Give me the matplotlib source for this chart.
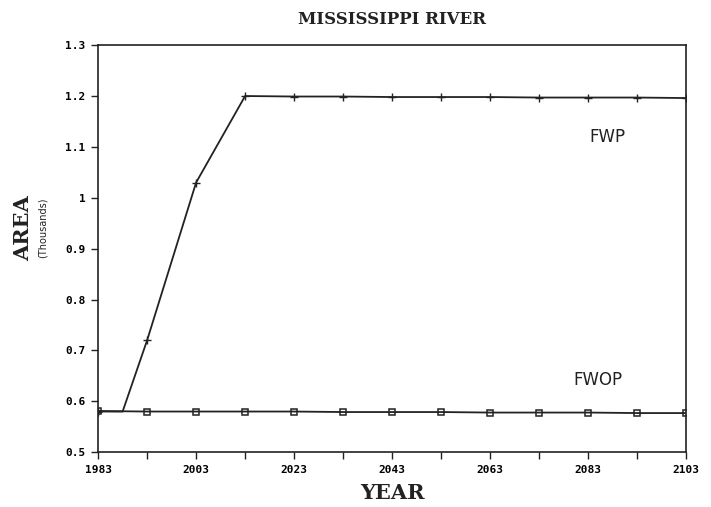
import numpy as np
import matplotlib.pyplot as plt

# --- dados ---
anos_fwp = [1983, 1988, 1993, 2003, 2013, 2023, 2033, 2043, 2053, 2063, 2073, 2083, 2093, 2103]
area_fwp = [0.58, 0.58, 0.72, 1.03, 1.20, 1.199, 1.199, 1.198, 1.198, 1.198, 1.197, 1.197, 1.197, 1.196]
marcas_fwp = [0, 2, 3, 4, 5, 6, 7, 8, 9, 10, 11, 12, 13]

anos_fwop = [1983, 1993, 2003, 2013, 2023, 2033, 2043, 2053, 2063, 2073, 2083, 2093, 2103]
area_fwop = [0.581, 0.580, 0.580, 0.580, 0.580, 0.579, 0.579, 0.579, 0.578, 0.578, 0.578, 0.577, 0.577]

xticks = [1983, 2003, 2023, 2043, 2063, 2083, 2103]
yticks = [0.5, 0.6, 0.7, 0.8, 0.9, 1.0, 1.1, 1.2, 1.3]
ytick_labels = ["0.5", "0.6", "0.7", "0.8", "0.9", "1", "1.1", "1.2", "1.3"]

fig = plt.figure(figsize=(7.11, 5.07), dpi=100)
ax = fig.add_axes([0.138, 0.108, 0.827, 0.803])

cor = "#222222"
ax.plot(anos_fwp, area_fwp, color=cor, lw=1.3, marker="+", markersize=6,
        markeredgewidth=1.0, markevery=marcas_fwp)
ax.plot(anos_fwop, area_fwop, color=cor, lw=1.3, marker="s", markersize=5,
        markerfacecolor="none", markeredgewidth=1.1)

ax.set_xlim(1983, 2103)
ax.set_ylim(0.5, 1.3)
ax.set_xticks(xticks)
ax.set_xticks(np.arange(1993, 2103, 20), minor=True)
ax.set_yticks(yticks)
ax.set_yticklabels(ytick_labels)

for lab in ax.get_xticklabels() + ax.get_yticklabels():
    lab.set_fontfamily("DejaVu Sans Mono")
    lab.set_fontweight("bold")
    lab.set_fontsize(8)

ax.tick_params(axis="both", which="both", direction="out", color=cor, width=1.0)
ax.tick_params(axis="both", which="major", length=5, pad=4)
ax.tick_params(axis="x", which="minor", length=5)
for s in ax.spines.values():
    s.set_color(cor)
    s.set_linewidth(1.2)

ax.text(2087, 1.12, "FWP", fontsize=12, family="DejaVu Sans",
        color=cor, ha="center", va="center")
ax.text(2085, 0.642, "FWOP", fontsize=12, family="DejaVu Sans",
        color=cor, ha="center", va="center")

fig.text(0.552, 0.962, "MISSISSIPPI RIVER", ha="center", va="center",
         family="DejaVu Serif", weight="bold", fontsize=12, color=cor)
fig.text(0.552, 0.028, "YEAR", ha="center", va="center",
         family="DejaVu Serif", weight="bold", fontsize=15, color=cor)
fig.text(0.033, 0.55, "AREA", ha="center", va="center", rotation=90,
         family="DejaVu Serif", weight="bold", fontsize=15, color=cor)
fig.text(0.06, 0.55, "(Thousands)", ha="center", va="center", rotation=90,
         family="DejaVu Sans", fontsize=7, color=cor)

fig.savefig("out.png", dpi=100)
